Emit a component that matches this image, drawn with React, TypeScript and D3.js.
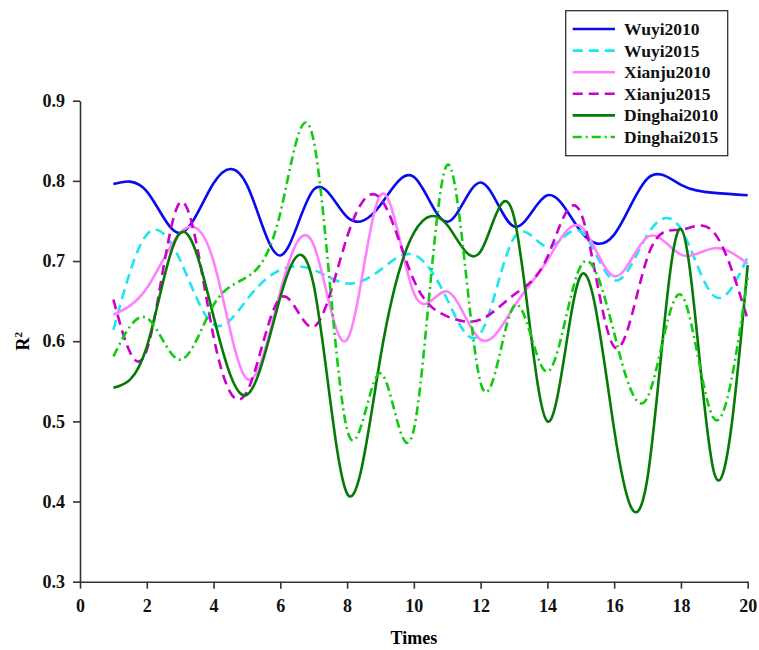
import React, { useEffect, useRef } from "react";
import * as d3 from "d3";

const times = [1, 2, 3, 4, 5, 6, 7, 8, 9, 10, 11, 12, 13, 14, 15, 16, 17, 18, 19, 20];

const wuyi2010 = [0.796, 0.787, 0.735, 0.797, 0.795, 0.707, 0.789, 0.755, 0.77, 0.805, 0.749, 0.798, 0.743, 0.782, 0.737, 0.733, 0.803, 0.795, 0.785, 0.782];
const wuyi2015 = [0.614, 0.733, 0.701, 0.621, 0.652, 0.689, 0.689, 0.672, 0.689, 0.708, 0.652, 0.61, 0.729, 0.718, 0.737, 0.676, 0.733, 0.74, 0.656, 0.705];
const xianju2010 = [0.633, 0.666, 0.735, 0.7, 0.553, 0.662, 0.72, 0.602, 0.782, 0.66, 0.662, 0.602, 0.643, 0.701, 0.743, 0.681, 0.73, 0.708, 0.716, 0.697];
const xianju2015 = [0.652, 0.589, 0.773, 0.606, 0.537, 0.654, 0.618, 0.73, 0.778, 0.676, 0.631, 0.627, 0.658, 0.705, 0.76, 0.593, 0.705, 0.739, 0.735, 0.627];
const dinghai2010 = [0.542, 0.593, 0.735, 0.631, 0.533, 0.655, 0.67, 0.41, 0.58, 0.735, 0.745, 0.712, 0.755, 0.5, 0.682, 0.49, 0.43, 0.74, 0.435, 0.695];
const dinghai2015 = [0.581, 0.629, 0.577, 0.645, 0.68, 0.76, 0.85, 0.49, 0.56, 0.49, 0.82, 0.548, 0.644, 0.562, 0.694, 0.61, 0.53, 0.658, 0.503, 0.68];

const xTicks = [0, 2, 4, 6, 8, 10, 12, 14, 16, 18, 20];
const yTicks = [0.3, 0.4, 0.5, 0.6, 0.7, 0.8, 0.9];

const seriesList = [
  { name: "Wuyi2010", values: wuyi2010, color: "#0a0aee", dash: null },
  { name: "Wuyi2015", values: wuyi2015, color: "#1ee6f0", dash: "10,6" },
  { name: "Xianju2010", values: xianju2010, color: "#ff80ff", dash: null },
  { name: "Xianju2015", values: xianju2015, color: "#cc00cc", dash: "10,6" },
  { name: "Dinghai2010", values: dinghai2010, color: "#067a06", dash: null },
  { name: "Dinghai2015", values: dinghai2015, color: "#10cc10", dash: "9,4,2,4" },
];

const W = 759;
const H = 650;
const FONT = "Liberation Serif, Times New Roman, serif";

export default function App() {
  const svgRef = useRef<SVGSVGElement>(null);

  useEffect(() => {
    const svg = d3.select(svgRef.current);
    svg.selectAll("*").remove();

    const x = d3.scaleLinear().domain([0, 20]).range([80, 747.7]);
    const y = d3.scaleLinear().domain([0.3, 0.9]).range([581.7, 100.7]);

    // axes
    const yAxis = svg
      .append("g")
      .attr("transform", `translate(${x(0)},0)`)
      .call(d3.axisLeft(y).tickValues(yTicks).tickFormat(d3.format(".1f")).tickSize(7).tickSizeOuter(0));
    const xAxis = svg
      .append("g")
      .attr("transform", `translate(0,${y(0.3)})`)
      .call(d3.axisBottom(x).tickValues(xTicks).tickFormat(d3.format("d")).tickSize(7).tickSizeOuter(0));

    [yAxis, xAxis].forEach((g) => {
      g.selectAll("path, line").attr("stroke", "#333").attr("stroke-width", 1.6);
      g.selectAll("text")
        .attr("fill", "#111")
        .style("font-family", FONT)
        .style("font-weight", "bold")
        .style("font-size", "18px");
    });
    yAxis.selectAll("text").attr("x", -15);
    xAxis.selectAll("text").attr("y", 18);

    // axis titles
    svg
      .append("text")
      .attr("x", x(10))
      .attr("y", 644)
      .attr("text-anchor", "middle")
      .style("font-family", FONT)
      .style("font-weight", "bold")
      .style("font-size", "18px")
      .text("Times");

    const rLabel = svg
      .append("text")
      .attr("transform", `translate(29,${y(0.6)}) rotate(-90)`)
      .attr("text-anchor", "middle")
      .style("font-family", FONT)
      .style("font-weight", "bold")
      .style("font-size", "18px");
    rLabel.append("tspan").text("R");
    rLabel.append("tspan").attr("dy", -7).style("font-size", "11px").text("2");

    // lines
    const line = d3
      .line<number>()
      .x((d, i) => x(times[i]))
      .y((d) => y(d))
      .curve(d3.curveNatural);

    seriesList.forEach((s) => {
      svg
        .append("path")
        .datum(s.values)
        .attr("fill", "none")
        .attr("stroke", s.color)
        .attr("stroke-width", 2.6)
        .attr("stroke-dasharray", s.dash)
        .attr("d", line);
    });

    // legend
    const legend = svg.append("g");
    legend
      .append("rect")
      .attr("x", 565.7)
      .attr("y", 10.7)
      .attr("width", 162)
      .attr("height", 145)
      .attr("fill", "#fff")
      .attr("stroke", "#333")
      .attr("stroke-width", 1.3);

    seriesList.forEach((s, i) => {
      const ly = 29 + i * 21.6;
      legend
        .append("line")
        .attr("x1", 572.7)
        .attr("x2", 615)
        .attr("y1", ly)
        .attr("y2", ly)
        .attr("stroke", s.color)
        .attr("stroke-width", 2.6)
        .attr("stroke-dasharray", s.dash);
      legend
        .append("text")
        .attr("x", 624)
        .attr("y", ly + 6)
        .style("font-family", FONT)
        .style("font-weight", "bold")
        .style("font-size", "17.5px")
        .attr("fill", "#111")
        .text(s.name);
    });
  }, []);

  return (
    <div style={{ position: "absolute", left: 0, top: 0 }}>
      <svg ref={svgRef} width={W} height={H} style={{ display: "block", background: "#fff" }} />
    </div>
  );
}
